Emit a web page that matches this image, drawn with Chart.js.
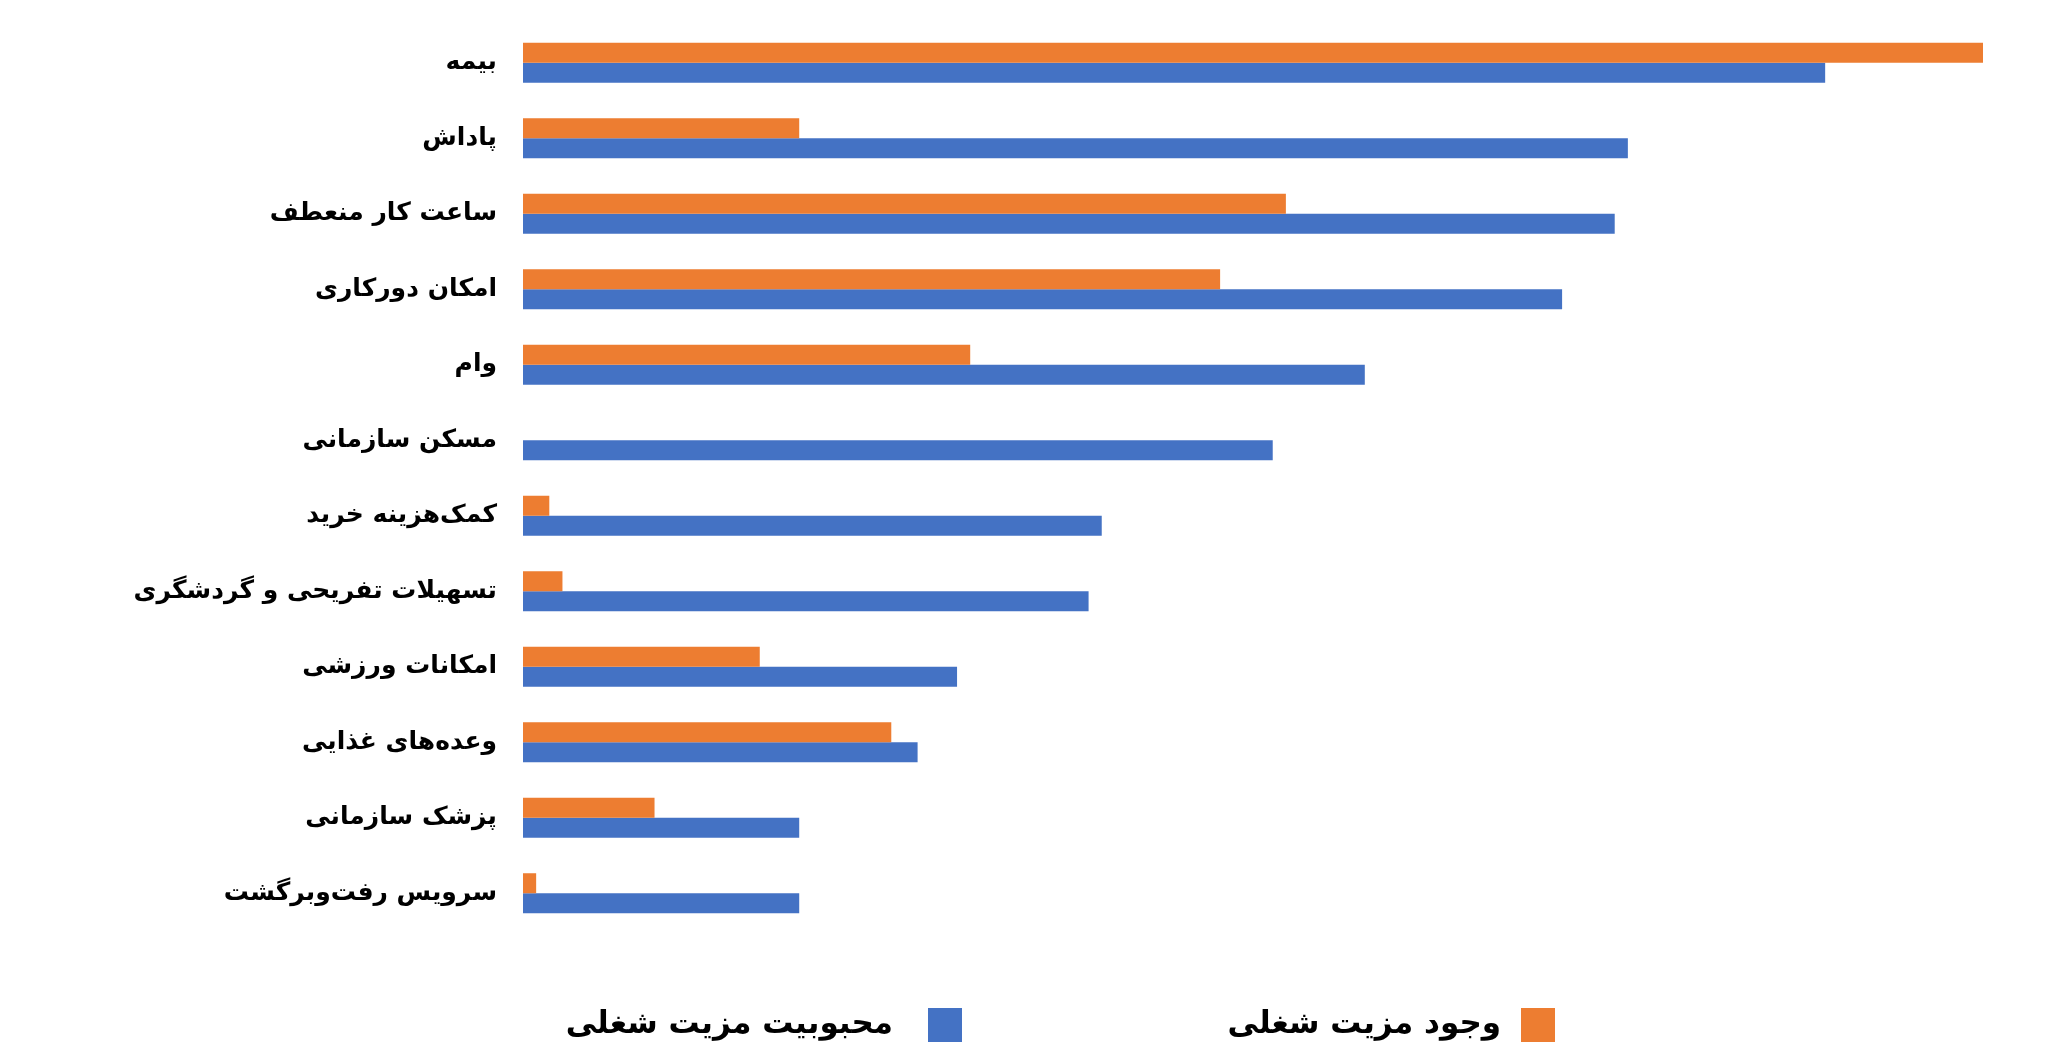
<!DOCTYPE html>
<html lang="fa">
<head>
    <meta charset="UTF-8">
    <title>مزیت شغلی</title>
    <script src="https://cdn.jsdelivr.net/npm/chart.js"></script>
    <style>
        html, body {
            margin: 0;
            padding: 0;
            background-color: white;
        }
        #wrap {
            position: relative;
            width: 2061px;
            height: 1058px;
        }
    </style>
</head>
<body>
    <div id="wrap">
        <canvas id="benefitChart"></canvas>
    </div>
    <script>
        // categories (top to bottom)
        const categories = [
            'بیمه',
            'پاداش',
            'ساعت کار منعطف',
            'امکان دورکاری',
            'وام',
            'مسکن سازمانی',
            'کمک‌هزینه خرید',
            'تسهیلات تفریحی و گردشگری',
            'امکانات ورزشی',
            'وعده‌های غذایی',
            'پزشک سازمانی',
            'سرویس رفت‌وبرگشت'
        ];

        // وجود مزیت شغلی (orange)
        const existingValues = [111, 21, 58, 53, 34, 0, 2, 3, 18, 28, 10, 1];
        // محبوبیت مزیت شغلی (blue)
        const popularityValues = [99, 84, 83, 79, 64, 57, 44, 43, 33, 30, 21, 21];

        const seriesNames = ['وجود مزیت شغلی', 'محبوبیت مزیت شغلی'];
        const seriesColors = ['#ED7D31', '#4472C4'];

        const fontFamily = '"DejaVu Sans", sans-serif';

        // legend drawn by hand so the wide gap between the two items can be kept
        const bottomLegend = {
            id: 'bottomLegend',
            afterDraw(chart) {
                const ctx = chart.ctx;
                const y = 1025;
                const items = [
                    {box: 1521, textRight: 1501},
                    {box: 928, textRight: 893}
                ];
                ctx.save();
                ctx.font = 'bold 31px ' + fontFamily;
                ctx.textAlign = 'right';
                ctx.textBaseline = 'middle';
                ctx.direction = 'rtl';
                chart.data.datasets.forEach(function(ds, i) {
                    ctx.fillStyle = ds.backgroundColor;
                    ctx.fillRect(items[i].box, y - 17, 34, 34);
                    ctx.fillStyle = '#000';
                    ctx.fillText(ds.label, items[i].textRight, y);
                });
                ctx.restore();
            }
        };

        const ctx = document.getElementById('benefitChart').getContext('2d');
        const chart = new Chart(ctx, {
            type: 'bar',
            data: {
                labels: categories,
                datasets: [{
                    label: seriesNames[0],
                    data: existingValues,
                    backgroundColor: seriesColors[0]
                }, {
                    label: seriesNames[1],
                    data: popularityValues,
                    backgroundColor: seriesColors[1]
                }]
            },
            options: {
                indexAxis: 'y',
                responsive: true,
                maintainAspectRatio: false,
                animation: false,
                categoryPercentage: 0.53,
                barPercentage: 1.0,
                layout: {
                    padding: {left: 0, top: 25, right: 78, bottom: 127}
                },
                plugins: {
                    legend: {display: false},
                    tooltip: {enabled: false}
                },
                scales: {
                    x: {
                        display: false,
                        min: 0,
                        max: 111
                    },
                    y: {
                        afterFit: function(scale) {
                            scale.width = 523;
                            scale.paddingTop = 0;
                            scale.paddingBottom = 0;
                        },
                        grid: {display: false},
                        border: {display: false},
                        ticks: {
                            padding: 18,
                            color: '#000',
                            font: {family: fontFamily, size: 25, weight: 'bold'}
                        }
                    }
                }
            },
            plugins: [bottomLegend]
        });
    </script>
</body>
</html>
